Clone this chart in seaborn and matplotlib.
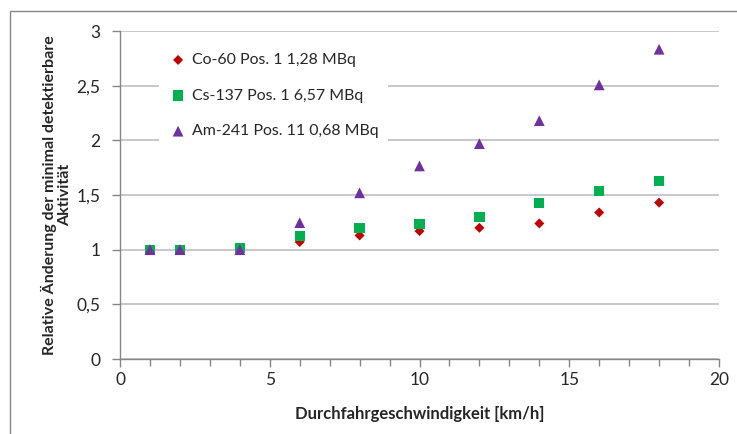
import pandas as pd
import matplotlib
matplotlib.use("Agg")
import matplotlib.pyplot as plt
import seaborn as sns
from matplotlib.ticker import MultipleLocator, FuncFormatter
from matplotlib.patches import Rectangle

# speed in km/h
speed = [1, 2, 4, 6, 8, 10, 12, 14, 16, 18]
co60 = [1.0, 1.0, 1.0, 1.07, 1.13, 1.17, 1.2, 1.24, 1.34, 1.43]
cs137 = [1.0, 1.0, 1.015, 1.125, 1.195, 1.235, 1.296, 1.43, 1.535, 1.63]
am241 = [1.0, 1.0, 1.0, 1.247, 1.52, 1.766, 1.97, 2.18, 2.507, 2.833]

names = ["Co-60 Pos. 1 1,28 MBq", "Cs-137 Pos. 1 6,57 MBq", "Am-241 Pos. 11 0,68 MBq"]
colors = ["#C00000", "#00B050", "#7030A0"]
markers = ["D", "s", "^"]
sizes = [26, 55, 60]


def comma(v, pos):
    s = f"{v:g}"
    return s.replace(".", ",")


def main():
    df = pd.DataFrame({
        "speed": speed * 3,
        "value": co60 + cs137 + am241,
        "nuclide": [names[0]] * len(speed) + [names[1]] * len(speed) + [names[2]] * len(speed),
    })

    sns.set_style("white")
    plt.rcParams["font.family"] = ["Lato", "DejaVu Sans"]

    fig = plt.figure(figsize=(7.37, 4.34), dpi=100)
    ax = fig.add_axes([120 / 737, 75 / 434, 599 / 737, 328 / 434])

    for i, name in enumerate(names):
        sub = df[df["nuclide"] == name]
        sns.scatterplot(data=sub, x="speed", y="value", ax=ax, color=colors[i],
                        marker=markers[i], s=sizes[i], edgecolor="none",
                        label=name, zorder=3)

    ax.set_xlim(0, 20)
    ax.set_ylim(0, 3)
    ax.xaxis.set_major_locator(MultipleLocator(5))
    ax.xaxis.set_minor_locator(MultipleLocator(1))
    ax.yaxis.set_major_locator(MultipleLocator(0.5))
    ax.xaxis.set_major_formatter(FuncFormatter(comma))
    ax.yaxis.set_major_formatter(FuncFormatter(comma))

    ax.grid(axis="y", color="#BFBFBF", linewidth=1.2)
    ax.grid(axis="x", visible=False)
    for side in ["top", "right"]:
        ax.spines[side].set_visible(False)
    for side in ["left", "bottom"]:
        ax.spines[side].set_color("#868686")
        ax.spines[side].set_linewidth(1)

    ax.tick_params(axis="both", which="both", direction="out", colors="#868686",
                   labelcolor="#262626", labelsize=12.5)
    ax.tick_params(axis="x", which="major", length=6, width=1, bottom=True)
    ax.tick_params(axis="x", which="minor", length=5, width=1, bottom=True)
    ax.tick_params(axis="y", which="major", length=6, width=1, left=True, pad=8)

    ax.set_xlabel("Durchfahrgeschwindigkeit [km/h]", fontsize=12, fontweight="bold",
                  color="#262626", labelpad=13)
    ax.set_ylabel("Relative Änderung der minimal detektierbare\nAktivität", fontsize=11.5,
                  fontweight="bold", color="#262626", labelpad=3, linespacing=1.15)

    leg = ax.legend(loc="upper left", bbox_to_anchor=(0.052, 0.986), frameon=True,
                    fontsize=11.4, handletextpad=0.3, labelspacing=1.36,
                    borderpad=0.6, handlelength=1.2, markerscale=1.0)
    leg.get_frame().set_edgecolor("none")
    leg.get_frame().set_facecolor("white")
    leg.get_frame().set_alpha(1)
    leg.set_zorder(4)
    for t in leg.get_texts():
        t.set_color("#262626")

    # chart area border
    fig.patches.append(Rectangle((10 / 737, -0.1), 1.2, (434 - 11) / 434 + 0.1,
                                 transform=fig.transFigure, fill=False,
                                 edgecolor="#868686", linewidth=1))

    fig.savefig("out.png", dpi=100)


if __name__ == "__main__":
    main()
